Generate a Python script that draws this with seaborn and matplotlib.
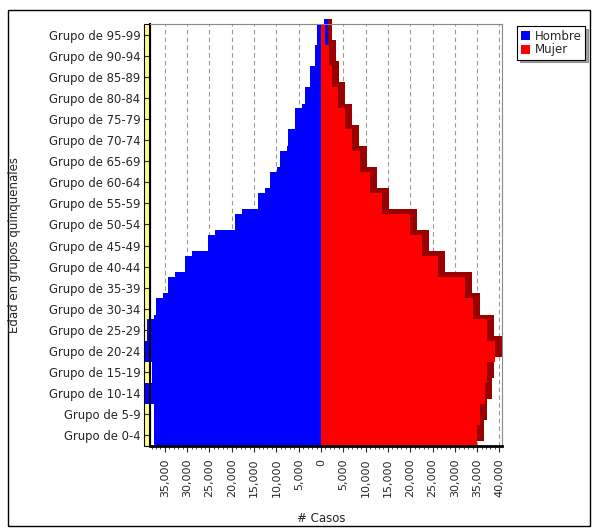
import numpy as np
import pandas as pd
import seaborn as sns
import matplotlib.pyplot as plt
import matplotlib.transforms as mtransforms
from matplotlib.patches import Rectangle, Patch
from matplotlib.ticker import FuncFormatter, MultipleLocator

# datos de la piramide
grupos = ["0-4", "5-9", "10-14", "15-19", "20-24", "25-29", "30-34", "35-39",
          "40-44", "45-49", "50-54", "55-59", "60-64", "65-69", "70-74",
          "75-79", "80-84", "85-89", "90-94", "95-99"]
hombre = [37500, 37500, 39500, 38000, 39500, 39000, 37000, 34300, 30500, 25300,
          19300, 14100, 11400, 9200, 7400, 5800, 3600, 2500, 1300, 900]
mujer = [35000, 35700, 36800, 37200, 39000, 37200, 34100, 32300, 26200, 22600,
         20000, 13700, 11000, 8700, 7000, 5400, 3800, 2500, 1800, 900]

etiquetas = ["Grupo de " + g for g in grupos]
orden = etiquetas[::-1]

df = pd.concat([
    pd.DataFrame({"grupo": etiquetas, "casos": -np.array(hombre), "sexo": "Hombre"}),
    pd.DataFrame({"grupo": etiquetas, "casos": np.array(mujer), "sexo": "Mujer"}),
])

sns.set_style("white")
plt.rcParams["font.family"] = ["DejaVu Sans"]

fig = plt.figure(figsize=(5.96, 5.30), dpi=100)
ax = fig.add_axes([150 / 596, 1 - 446 / 530, 352 / 596, 422 / 530])

# grid al fondo
ax.set_axisbelow(True)
ax.grid(True, linestyle=(0, (4, 3)), color="#999999", linewidth=0.8)

# sombra 3D (caras laterales)
sns.barplot(data=df, x="casos", y="grupo", hue="sexo", order=orden,
            palette={"Hombre": "#0000ff", "Mujer": "#990000"}, saturation=1,
            dodge=False, width=1.0, orient="h", legend=False, ax=ax,
            linewidth=0)
offset = mtransforms.ScaledTranslation(5 / 72, 3.5 / 72, fig.dpi_scale_trans)
for p in ax.patches:
    p.set_transform(ax.transData + offset)
    p.set_clip_on(False)
n_sombra = len(ax.patches)

sns.barplot(data=df, x="casos", y="grupo", hue="sexo", order=orden,
            palette={"Hombre": "#0000ff", "Mujer": "#ff0000"}, saturation=1,
            dodge=False, width=1.0, orient="h", legend=False, ax=ax,
            linewidth=0)
for p in ax.patches[n_sombra:]:
    p.set_clip_on(False)

ax.set_xlim(-38340, 40580)
ax.set_ylim(19.5, -0.5)
ax.set_xticks(np.arange(-35000, 40001, 5000))
ax.xaxis.set_minor_locator(MultipleLocator(1000))
ax.xaxis.set_major_formatter(FuncFormatter(lambda v, pos: f"{abs(int(v)):,}"))
ax.tick_params(axis="x", labelrotation=90, labelsize=8, length=4, width=0.8,
               direction="out", bottom=True, pad=5)
ax.tick_params(axis="x", which="minor", length=2, width=0.6, bottom=True)
ax.tick_params(axis="y", labelsize=8.4, length=4, width=0.8, left=True, pad=3)
ax.set_xlabel("")
ax.set_ylabel("")

for s in ["top", "right"]:
    ax.spines[s].set_color("#888888")
    ax.spines[s].set_linewidth(0.8)
ax.spines["bottom"].set_linewidth(2.0)
ax.spines["bottom"].set_color("black")
ax.spines["left"].set_linewidth(1.5)
ax.spines["left"].set_color("black")

# pared amarilla izquierda
ax.add_patch(Rectangle((-0.018, 0), 0.018, 1.0, transform=ax.transAxes,
                       facecolor="#ffff88", edgecolor="black", linewidth=0.8,
                       clip_on=False, zorder=0.5))

fig.text(0.024, 1 - 245 / 530, "Edad en grupos quinquenales", rotation=90,
         ha="center", va="center", fontsize=8.5)
fig.text(321 / 596, 1 - 519 / 530, "# Casos", ha="center", va="center", fontsize=8.5)

# leyenda
handles = [Patch(facecolor="#0000ff", edgecolor="none", label="Hombre"),
           Patch(facecolor="#ff0000", edgecolor="none", label="Mujer")]
leg = fig.legend(handles=handles, loc="upper left",
                 bbox_to_anchor=(517 / 596, 1 - 26 / 530), fontsize=8.5,
                 frameon=True, fancybox=False, shadow=True, handlelength=0.8,
                 handleheight=0.8, handletextpad=0.4, borderpad=0.3,
                 labelspacing=0.05, borderaxespad=0)
leg.get_frame().set_edgecolor("black")
leg.get_frame().set_linewidth(0.8)

# marco exterior
fig.patches.append(Rectangle((8 / 596, 4 / 530), 582 / 596, 516 / 530,
                             transform=fig.transFigure, fill=False,
                             edgecolor="black", linewidth=1.0))

fig.savefig("out.png", dpi=100)
